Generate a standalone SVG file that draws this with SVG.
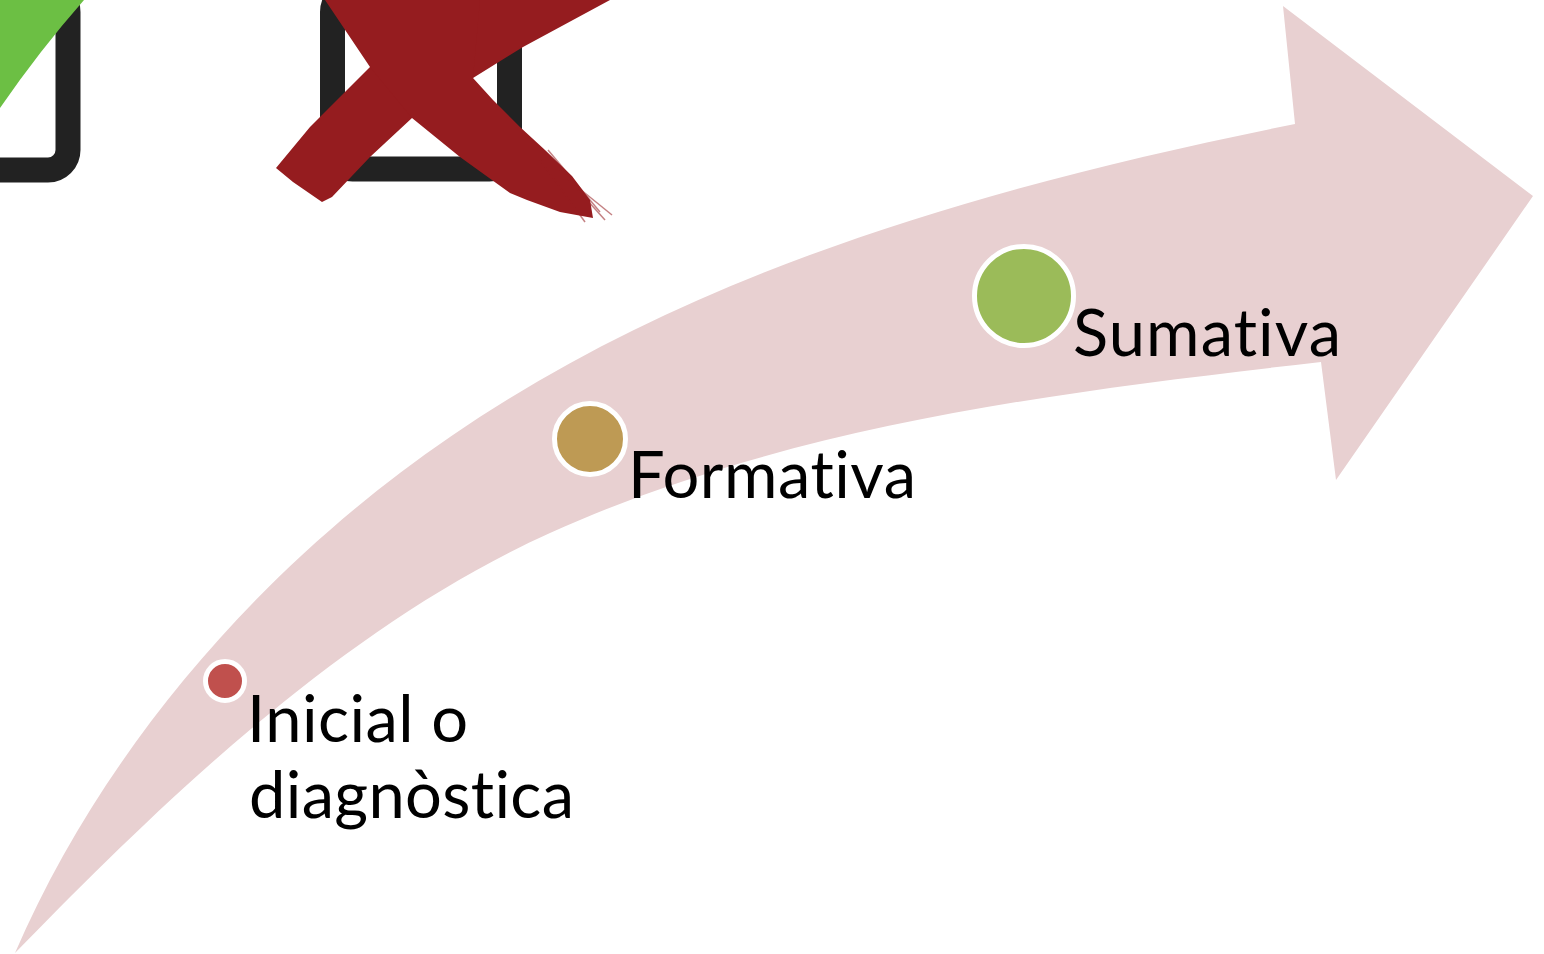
<svg xmlns="http://www.w3.org/2000/svg" width="1544" height="954" viewBox="0 0 1544 954">
  <style>
    .lbl { font-family: Lato, "Open Sans", "Liberation Sans", sans-serif; font-size: 65px; fill: #000; font-variant-ligatures: none; font-feature-settings: "liga" 0, "clig" 0; }
    .dot { stroke: #ffffff; stroke-width: 5; }
    .box { fill: none; stroke: #222222; stroke-width: 25; }
    .xmark { fill: #951C1F; }
  </style>
  <rect width="1544" height="954" fill="#ffffff"/>

  <g id="icons">
    <g id="checkbox-ok">
      <rect class="box" x="-134" y="-8" width="202" height="178" rx="20"/>
      <path d="M0,0 L84,0 Q40,50 0,108 Z" fill="#6CBF44"/>
    </g>
    <g id="checkbox-no">
      <rect class="box" x="332.5" y="-8" width="177" height="177" rx="20"/>
      <polygon class="xmark" points="276,168 310,127 370,67 427,25 470,0 610,0 523,47 473,78 412,118 370,157 332,197 322,202 293,182"/>
      <polygon class="xmark" points="325,0 480,0 473,78 493,100 520,127 545,150 572,176 590,200 593,218 560,212 527,200 510,193 460,157 412,118 370,67"/>
      <g stroke="#951C1F" stroke-width="1.5" opacity="0.55" fill="none">
        <path d="M548,150 L600,212"/>
        <path d="M560,170 L605,220"/>
        <path d="M575,185 L612,215"/>
        <path d="M540,160 L585,222"/>
      </g>
    </g>
  </g>

  <g id="connectors">
    <path id="arrow" d="M15,953 C104,747 264,564 450,437 C697,267 1001,183 1295,124 L1283,6 L1533,196 L1336,480 L1321,362 C1058,392 789,425 550,533 C335,630 150,815 15,953 Z" fill="#E8D0D1"/>
  </g>

  <g id="node-inicial">
    <circle class="dot" cx="225" cy="681" r="19.5" fill="#C0504D"/>
    <text class="lbl" x="247" y="742" textLength="221">Inicial o</text>
    <text class="lbl" x="249" y="818" textLength="325">diagnòstica</text>
  </g>

  <g id="node-formativa">
    <circle class="dot" cx="590" cy="439" r="35.5" fill="#BE9A54"/>
    <text class="lbl" x="628" y="498" textLength="288">Formativa</text>
  </g>

  <g id="node-sumativa">
    <circle class="dot" cx="1024" cy="296" r="49.5" fill="#9BBB59"/>
    <text class="lbl" x="1073" y="356" textLength="268">Sumativa</text>
  </g>
</svg>
